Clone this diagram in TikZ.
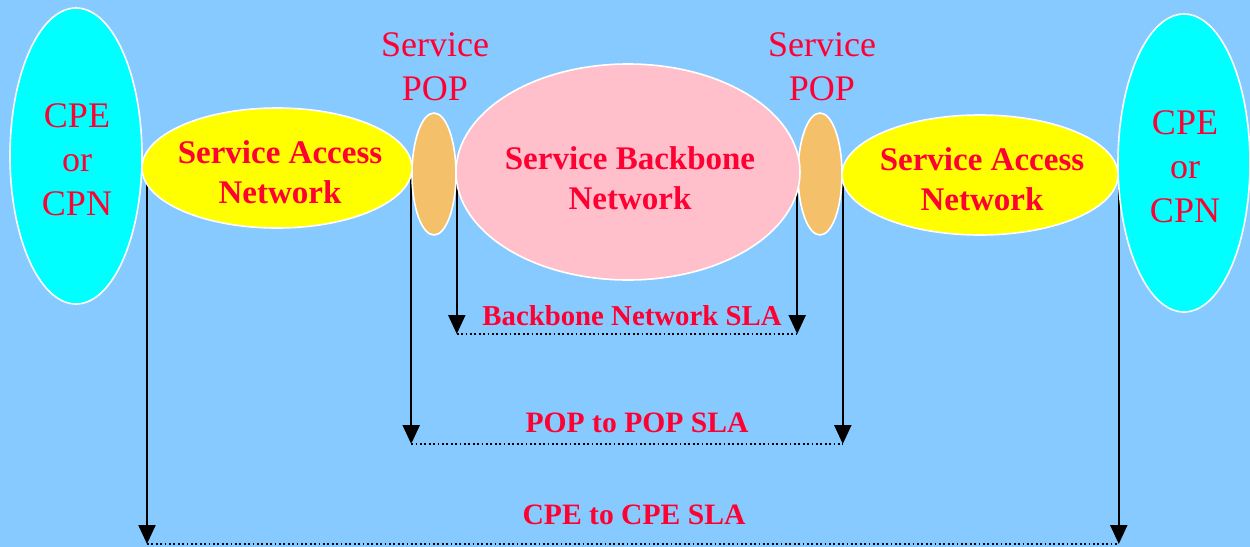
\documentclass[tikz,border=0pt]{standalone}
\usepackage{fontspec}
\setmainfont{Liberation Serif}
\usetikzlibrary{shapes.geometric,arrows.meta,backgrounds}
\definecolor{skyblue}{RGB}{135,202,255}
\definecolor{slared}{RGB}{255,0,51}
\definecolor{cpefill}{RGB}{0,255,255}
\definecolor{sanfill}{RGB}{255,255,0}
\definecolor{popfill}{RGB}{245,192,106}
\definecolor{bbfill}{RGB}{255,192,203}
\tikzset{
  cloud/.style={ellipse, draw=white, line width=0.8pt, inner sep=0pt},
  cpetext/.style={align=center, text=slared, font=\fontsize{18}{22}\selectfont},
  santext/.style={align=center, text=slared, font=\fontsize{16.5}{20}\selectfont\bfseries},
  slalabel/.style={text=slared, font=\fontsize{14.8}{18}\selectfont\bfseries},
  sla/.style={line width=1.1pt, -{Triangle[width=8.5pt,length=9.5pt]}},
  span/.style={line width=0.9pt, dash pattern=on 0.9pt off 1.3pt}
}
\begin{document}
\begin{tikzpicture}[x=0.5pt, y=-0.5pt]
	\useasboundingbox (0,0) rectangle (1250,547);
	\node [cloud, fill=cpefill, minimum width=66pt, minimum height=148pt] (cpeL) at (76,156) {};
	\node [cloud, fill=cpefill, minimum width=66pt, minimum height=149pt] (cpeR) at (1184,163) {};
	\node [cloud, fill=sanfill, minimum width=135pt, minimum height=60pt] (sanL) at (277,168) {};
	\node [cloud, fill=sanfill, minimum width=138pt, minimum height=60pt] (sanR) at (980,175) {};
	\node [cloud, fill=popfill, minimum width=22pt, minimum height=61pt] (popL) at (434,174) {};
	\node [cloud, fill=popfill, minimum width=22pt, minimum height=61pt] (popR) at (820,174) {};
	\node [cloud, fill=bbfill, minimum width=172pt, minimum height=108pt] (bb) at (628,172) {};
	% texts
	\node [cpetext] (cpeLtext) at (77,160) {CPE\\or\\CPN};
	\node [cpetext] (cpeRtext) at (1185,167) {CPE\\or\\CPN};
	\node [santext] (sanLtext) at (280,172) {Service Access\\Network};
	\node [santext] (sanRtext) at (982,179) {Service Access\\Network};
	\node [santext] (bbtext) at (630,178) {Service Backbone\\Network};
	\node [cpetext] (svcL) at (435,67) {Service\\POP};
	\node [cpetext] (svcR) at (822,67) {Service\\POP};
	% SLA spans
	\coordinate (bbA) at (popL.east |- 0,334);
	\coordinate (bbB) at (popR.west |- 0,334);
	\coordinate (ppA) at (popL.west |- 0,444);
	\coordinate (ppB) at (popR.east |- 0,444);
	\coordinate (ccA) at (147,544);
	\coordinate (ccB) at (sanR.east |- 0,544);
	\node [slalabel, font=\fontsize{14.4}{18}\selectfont\bfseries] (bbsla) at (632,316) {Backbone Network SLA};
	\node [slalabel] (ppsla) at (637,423) {POP to POP SLA};
	\node [slalabel] (ccsla) at (634,515) {CPE to CPE SLA};
	\begin{scope}[on background layer]
		\fill [skyblue] (0,0) rectangle (1250,547);
		\draw [sla] (popL.east) -- (bbA);
		\draw [sla] (popR.west) -- (bbB);
		\draw [sla] (popL.west) -- (ppA);
		\draw [sla] (popR.east) -- (ppB);
		\draw [sla] (sanL.west -| ccA) -- (ccA);
		\draw [sla] (sanR.east) -- (ccB);
	\end{scope}
	\draw [span] (bbA) -- (bbB);
	\draw [span] (ppA) -- (ppB);
	\draw [span] (ccA) -- (ccB);
\end{tikzpicture}
\end{document}
